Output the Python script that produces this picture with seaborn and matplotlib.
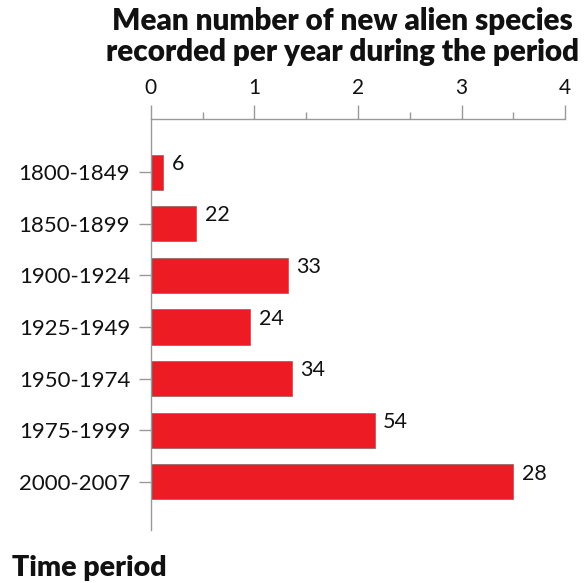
import matplotlib
matplotlib.use("Agg")
import matplotlib.pyplot as plt
import seaborn as sns
import pandas as pd
from matplotlib.ticker import MultipleLocator

periods = ["1800-1849", "1850-1899", "1900-1924", "1925-1949", "1950-1974", "1975-1999", "2000-2007"]
counts = [6, 22, 33, 24, 34, 54, 28]
mean_per_year = [0.12, 0.44, 1.32, 0.96, 1.36, 2.16, 3.5]

df = pd.DataFrame({"period": periods, "mean": mean_per_year, "count": counts})

sns.set_style("white")
plt.rcParams["font.family"] = ["Lato", "DejaVu Sans"]

fig = plt.figure(figsize=(5.85, 5.83), dpi=100)
ax = fig.add_axes([0.258, 0.091, 0.708, 0.705])

sns.barplot(data=df, x="mean", y="period", orient="h", color="#ED1C24",
            saturation=1, width=0.68, edgecolor="#9a6a6a", linewidth=0.6, ax=ax)

for i, (v, c) in enumerate(zip(mean_per_year, counts)):
    ax.annotate(str(c), xy=(v, i), xytext=(6, 6), textcoords="offset points",
                ha="left", va="center", fontsize=15.5, color="#111111")

ax.set_xlim(0, 4)
ax.set_ylim(6.93, -1.03)
ax.xaxis.set_ticks_position("top")
ax.xaxis.set_label_position("top")
ax.xaxis.set_major_locator(MultipleLocator(1))
ax.xaxis.set_minor_locator(MultipleLocator(0.5))
ax.tick_params(axis="x", which="major", length=10, width=1, color="#999999",
               labelsize=15, pad=5, labelcolor="#111111")
ax.tick_params(axis="x", which="minor", length=5, width=1, color="#999999")
ax.tick_params(axis="y", which="major", length=9, width=1, color="#999999",
               labelsize=16, pad=6, labelcolor="#111111", left=True)

for s in ["right", "bottom"]:
    ax.spines[s].set_visible(False)
for s in ["top", "left"]:
    ax.spines[s].set_color("#999999")
    ax.spines[s].set_linewidth(1)

ax.set_xlabel("")
ax.set_ylabel("")

fig.text(0.585, 0.988, "Mean number of new alien species\nrecorded per year during the period",
         ha="center", va="top", fontsize=21.3, fontweight="heavy", linespacing=1.15,
         color="#111111")
fig.text(0.02, 0.025, "Time period", ha="left", va="center", fontsize=20.5,
         fontweight="heavy", color="#111111")

fig.savefig("out.png", dpi=100)
